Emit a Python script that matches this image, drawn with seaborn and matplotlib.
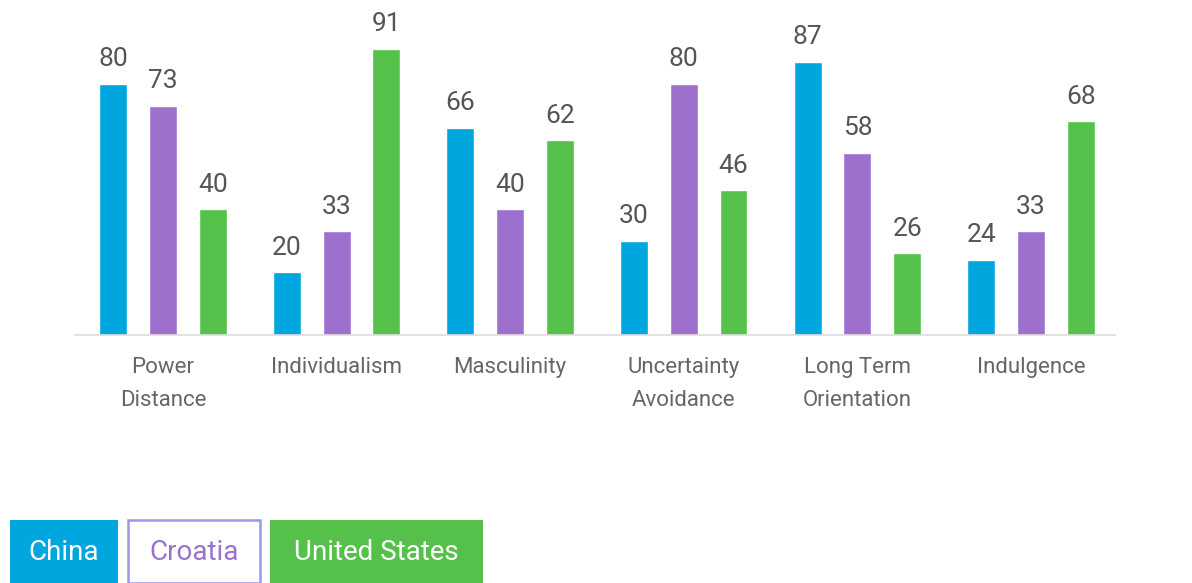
import matplotlib
matplotlib.use("Agg")
import matplotlib.pyplot as plt
from matplotlib.patches import Rectangle
import numpy as np
import pandas as pd
import seaborn as sns

dimensions = ["Power\nDistance", "Individualism", "Masculinity",
              "Uncertainty\nAvoidance", "Long Term\nOrientation", "Indulgence"]
countries = ["China", "Croatia", "United States"]
china = [80, 20, 66, 30, 87, 24]
croatia = [73, 33, 40, 80, 58, 33]
usa = [40, 91, 62, 46, 26, 68]
colors = ["#00a6de", "#9c70cc", "#55c14a"]

df = pd.DataFrame({
    "dimension": dimensions * 3,
    "country": [c for c in countries for _ in dimensions],
    "score": china + croatia + usa,
})

sns.set_theme(style="white")
plt.rcParams["font.family"] = ["Roboto", "DejaVu Sans"]

fig = plt.figure(figsize=(11.92, 5.83), dpi=100)
ax = fig.add_axes([0.0629, 0.4254, 0.8725, 0.5391])

sns.barplot(data=df, x="dimension", y="score", hue="country",
            palette=colors, width=0.86, gap=0.44, ax=ax, legend=False,
            saturation=1)

for cont in ax.containers:
    ax.bar_label(cont, padding=9, fontsize=19, color="#555555")

ax.set_xlim(-0.507, 5.484)
ax.set_ylim(0, 100)
ax.set_xlabel("")
ax.set_ylabel("")
ax.set_yticks([])
for s in ["top", "right", "left"]:
    ax.spines[s].set_visible(False)
ax.spines["bottom"].set_color("#dddddd")
ax.spines["bottom"].set_linewidth(1.2)
ax.tick_params(axis="x", length=0, pad=16, labelsize=16, labelcolor="#666666")
for lab in ax.get_xticklabels():
    lab.set_linespacing(1.75)
    lab.set_verticalalignment("top")

# legend buttons
W, H = 1192, 583
boxes = [(10, 118), (128, 260), (270, 483)]
for (x0, x1), name, col in zip(boxes, countries, colors):
    if name == "Croatia":
        fig.patches.append(Rectangle((x0 / W, 0), (x1 - x0) / W, 63 / H,
                                     transform=fig.transFigure, facecolor="white",
                                     edgecolor="#9b97ea", linewidth=1.8))
        tc = col
    else:
        fig.patches.append(Rectangle((x0 / W, 0), (x1 - x0) / W, 63 / H,
                                     transform=fig.transFigure, facecolor=col,
                                     edgecolor="none"))
        tc = "white"
    fig.text((x0 + x1) / 2 / W, 30 / H, name, ha="center", va="center",
             fontsize=20, color=tc)

fig.savefig("out.png", dpi=100)
